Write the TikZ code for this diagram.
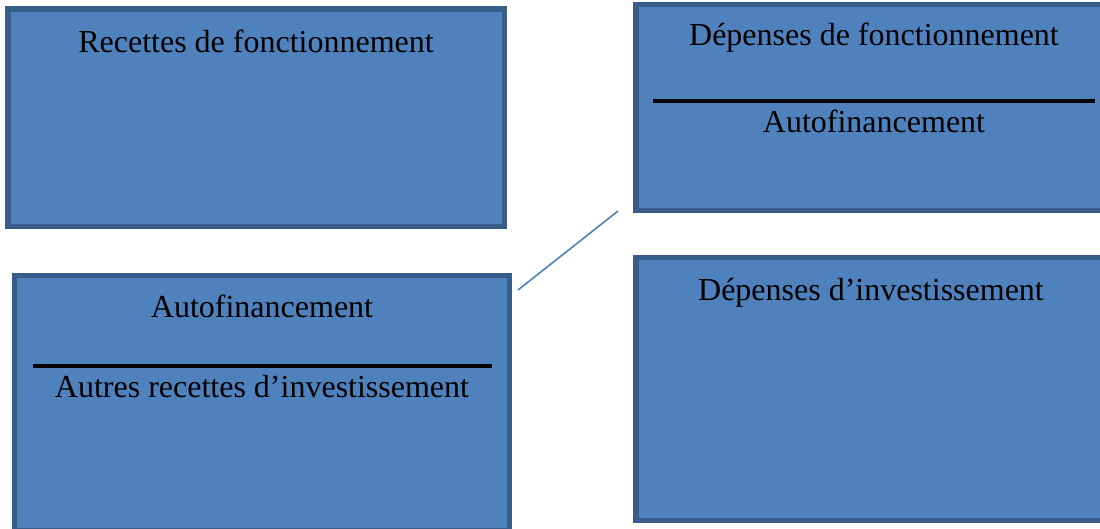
\documentclass[tikz,border=0pt]{standalone}
\usepackage{fontspec}
\setmainfont{Liberation Serif}
\definecolor{boxfill}{HTML}{4F81BD}
\definecolor{boxedge}{HTML}{385D8A}
\begin{document}
\begin{tikzpicture}[x=1pt,y=-1pt,
  box/.style={draw=boxedge,fill=boxfill,line width=5.5pt,inner sep=0pt,outer sep=0pt,rectangle},
  lbl/.style={anchor=base,inner sep=0pt,font=\fontsize{32}{38}\selectfont,text=black},
  bar/.style={line width=4pt,black},
  link/.style={draw=boxfill,line width=1.6pt}]
\useasboundingbox (0,0) rectangle (1100,528);
\node[box,minimum width=496.5pt,minimum height=217.5pt] (b1) at (256.25,117.75) {};
\node[box,minimum width=474pt,minimum height=206pt] (b2) at (873,107.5) {};
\node[box,minimum width=495pt,minimum height=255.5pt] (b3) at (262,403.25) {};
\node[box,minimum width=474pt,minimum height=263pt] (b4) at (873,389) {};
\node[lbl] (t1) at (256,52) {Recettes de fonctionnement};
\node[lbl] (t2) at (874,45) {Dépenses de fonctionnement};
\node[lbl] (t3) at (874,132) {Autofinancement};
\node[lbl] (t4) at (262,317) {Autofinancement};
\node[lbl] (t5) at (262,397) {Autres recettes d’investissement};
\node[lbl] (t6) at (871,300) {Dépenses d’investissement};
\coordinate (l2a) at (653,100.5);
\coordinate (l2b) at (1095,100.5);
\coordinate (l3a) at (33,366);
\coordinate (l3b) at (492,366);
\draw[bar] (l2a) -- (l2b);
\draw[bar] (l3a) -- (l3b);
\coordinate (ca) at (518,290);
\coordinate (cb) at (618,211);
\draw[link] (ca) -- (cb);
\end{tikzpicture}
\end{document}
